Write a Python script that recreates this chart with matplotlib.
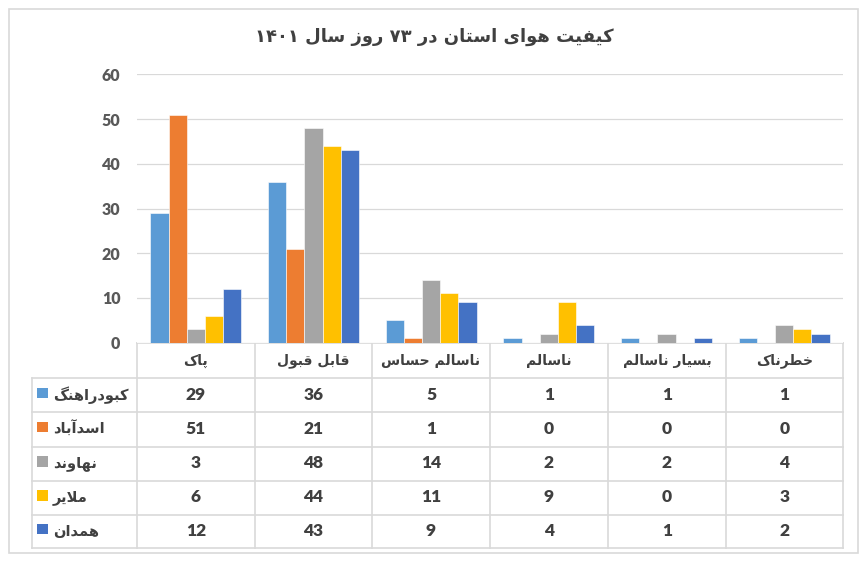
import numpy as np
import matplotlib
matplotlib.use('Agg')
import matplotlib.pyplot as plt
from matplotlib.patches import Rectangle

# --- data ---
title_txt = 'کیفیت هوای استان در ۷۳ روز سال ۱۴۰۱'
categories = ['پاک', 'قابل قبول', 'ناسالم حساس', 'ناسالم', 'بسیار ناسالم', 'خطرناک']
series_names = ['کبودراهنگ', 'اسدآباد', 'نهاوند', 'ملایر', 'همدان']
kaboudarahang = [29, 36, 5, 1, 1, 1]
asadabad = [51, 21, 1, 0, 0, 0]
nahavand = [3, 48, 14, 2, 2, 4]
malayer = [6, 44, 11, 9, 0, 3]
hamedan = [12, 43, 9, 4, 1, 2]
series_values = [kaboudarahang, asadabad, nahavand, malayer, hamedan]
colors = ['#5B9BD5', '#ED7D31', '#A5A5A5', '#FFC000', '#4472C4']
y_ticks = [0, 10, 20, 30, 40, 50, 60]

# --- simple persian shaping (no reshaper lib available) ---
# isolated, final, initial, medial
FORMS = {
    'ا': ('\uFE8D', '\uFE8E', None, None),
    'آ': ('\uFE81', '\uFE82', None, None),
    'ب': ('\uFE8F', '\uFE90', '\uFE91', '\uFE92'),
    'پ': ('\uFB56', '\uFB57', '\uFB58', '\uFB59'),
    'ت': ('\uFE95', '\uFE96', '\uFE97', '\uFE98'),
    'ح': ('\uFEA1', '\uFEA2', '\uFEA3', '\uFEA4'),
    'خ': ('\uFEA5', '\uFEA6', '\uFEA7', '\uFEA8'),
    'د': ('\uFEA9', '\uFEAA', None, None),
    'ر': ('\uFEAD', '\uFEAE', None, None),
    'ز': ('\uFEAF', '\uFEB0', None, None),
    'س': ('\uFEB1', '\uFEB2', '\uFEB3', '\uFEB4'),
    'ط': ('\uFEC1', '\uFEC2', '\uFEC3', '\uFEC4'),
    'ف': ('\uFED1', '\uFED2', '\uFED3', '\uFED4'),
    'ق': ('\uFED5', '\uFED6', '\uFED7', '\uFED8'),
    'ک': ('\uFB8E', '\uFB8F', '\uFB90', '\uFB91'),
    'گ': ('\uFB92', '\uFB93', '\uFB94', '\uFB95'),
    'ل': ('\uFEDD', '\uFEDE', '\uFEDF', '\uFEE0'),
    'م': ('\uFEE1', '\uFEE2', '\uFEE3', '\uFEE4'),
    'ن': ('\uFEE5', '\uFEE6', '\uFEE7', '\uFEE8'),
    'ه': ('\uFEE9', '\uFEEA', '\uFEEB', '\uFEEC'),
    'و': ('\uFEED', '\uFEEE', None, None),
    'ی': ('\uFBFC', '\uFBFD', '\uFBFE', '\uFBFF'),
}
LAM_ALEF = {'ا': ('\uFEFB', '\uFEFC'), 'آ': ('\uFEF5', '\uFEF6')}
DIGITS = set('0123456789۰۱۲۳۴۵۶۷۸۹')


def shape(s):
    out = []
    i = 0
    n = len(s)
    while i < n:
        c = s[i]
        if c not in FORMS:
            out.append(c)
            i += 1
            continue
        prev = s[i - 1] if i > 0 else ''
        pj = prev in FORMS and FORMS[prev][2] is not None
        if c == 'ل' and i + 1 < n and s[i + 1] in LAM_ALEF:
            out.append(LAM_ALEF[s[i + 1]][1 if pj else 0])
            i += 2
            continue
        nxt = s[i + 1] if i + 1 < n else ''
        nj = nxt in FORMS and FORMS[c][2] is not None
        iso, fin, ini, med = FORMS[c]
        if pj and nj:
            out.append(med)
        elif pj:
            out.append(fin)
        elif nj:
            out.append(ini)
        else:
            out.append(iso)
        i += 1
    # visual order: reverse runs, keep digit runs left-to-right
    runs = []
    for ch in out:
        d = ch in DIGITS
        if runs and runs[-1][0] == d:
            runs[-1][1].append(ch)
        else:
            runs.append([d, [ch]])
    vis = ''
    for d, chars in reversed(runs):
        vis += ''.join(chars) if d else ''.join(reversed(chars))
    return vis


W, H = 867, 564
fig = plt.figure(figsize=(W / 100, H / 100), dpi=100)

# pixel helper axes for frame / table
px = fig.add_axes([0, 0, 1, 1])
px.set_xlim(0, W)
px.set_ylim(H, 0)
px.axis('off')

fa = ['DejaVu Sans']
num_fa = ['Lato', 'DejaVu Sans']
grid_c = '#D9D9D9'
txt_c = '#404040'

px.add_patch(Rectangle((9, 9), 849, 544, fill=False, ec='#D9D9D9', lw=1.2))

# plot area
left, right, top, bottom = 137, 843, 74.3, 342.7
ax = fig.add_axes([left / W, 1 - bottom / H, (right - left) / W, (bottom - top) / H])
ax.set_xlim(0, len(categories))
ax.set_ylim(0, 60)
for sp in ax.spines.values():
    sp.set_visible(False)
ax.set_yticks(y_ticks)
ax.set_yticklabels([str(t) for t in y_ticks], fontsize=11.5, fontweight='heavy',
                   color='#595959', family=num_fa)
ax.tick_params(axis='y', length=0, pad=12)
ax.set_xticks([])
ax.grid(axis='y', color=grid_c, lw=0.9)
ax.set_axisbelow(True)

bw = 0.1545
x = np.arange(len(categories)) + 0.5
for k, (vals, col) in enumerate(zip(series_values, colors)):
    ax.bar(x + (k - 2) * bw, vals, width=bw, color=col, edgecolor='white', lw=0.4)

# --- data table ---
col_edges = [137, 254.5, 372, 490, 608, 726, 843]
row_edges = [343, 378, 412, 446.5, 480.5, 514.5, 548]
tab_left = 31.5

px.plot([col_edges[0], col_edges[-1]], [row_edges[0]] * 2, color=grid_c, lw=1.2)
for y in row_edges[1:]:
    px.plot([tab_left, col_edges[-1]], [y, y], color=grid_c, lw=1.2)
for xe in col_edges:
    px.plot([xe, xe], [row_edges[0], row_edges[-1]], color=grid_c, lw=1.2)
px.plot([tab_left, tab_left], [row_edges[1], row_edges[-1]], color=grid_c, lw=1.2)

for j, cat in enumerate(categories):
    cx = (col_edges[j] + col_edges[j + 1]) / 2
    px.text(cx, (row_edges[0] + row_edges[1]) / 2, shape(cat), ha='center', va='center',
            fontsize=10, fontweight='bold', color=txt_c, family=fa)

for k, (name, vals, col) in enumerate(zip(series_names, series_values, colors)):
    y0, y1 = row_edges[k + 1], row_edges[k + 2]
    cy = (y0 + y1) / 2
    px.add_patch(Rectangle((37, cy - 7.5), 11, 10.5, color=col, lw=0))
    px.text(53, cy, shape(name), ha='left', va='center', fontsize=10.5,
            fontweight='bold', color=txt_c, family=fa)
    for j, v in enumerate(vals):
        cx = (col_edges[j] + col_edges[j + 1]) / 2
        px.text(cx, cy, str(v), ha='center', va='center', fontsize=12.5,
                fontweight='heavy', color=txt_c, family=num_fa)

px.text(434, 37, shape(title_txt), ha='center', va='center', fontsize=13,
        fontweight='bold', color=txt_c, family=fa)

fig.savefig('out.png', dpi=100)
